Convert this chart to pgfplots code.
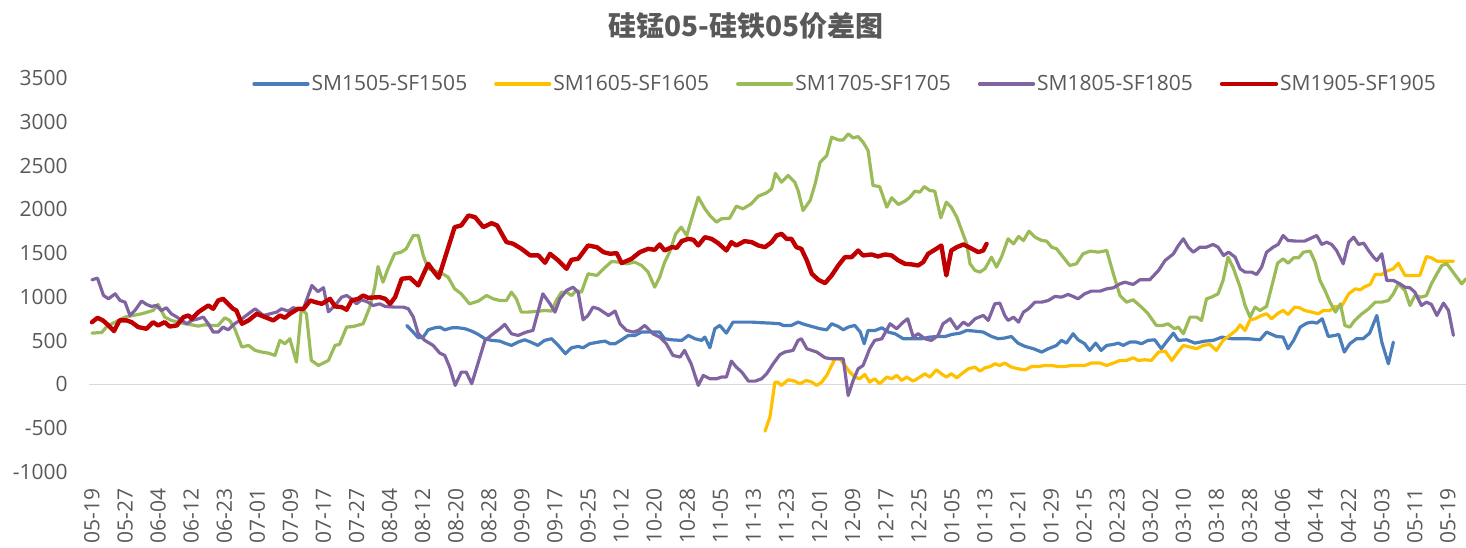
\documentclass[border=0pt]{standalone}
\usepackage{fontspec}
\setmainfont{Open Sans}
\newfontfamily\cjk{Noto Sans CJK SC}
\usepackage{pgfplots}
\pgfplotsset{compat=1.18}
\definecolor{cblue}{HTML}{4A7EBB}
\definecolor{cyellow}{HTML}{FFC000}
\definecolor{cgreen}{HTML}{9BBB59}
\definecolor{cpurple}{HTML}{8064A2}
\definecolor{cred}{HTML}{C00000}
\definecolor{txt}{HTML}{595959}
\definecolor{zeroline}{HTML}{D9D9D9}
\begin{document}
\begin{tikzpicture}
\begin{axis}[
  scale only axis, width=689pt, height=197pt,
  xmin=-0.5, xmax=249.5, ymin=-1000, ymax=3500,
  axis line style={draw=none},
  major tick length=0pt,
  ytick={-1000,-500,...,3500},
  yticklabels={-1000,-500,0,500,1000,1500,2000,2500,3000,3500},
  xtick={0,6,...,246},
  xticklabels={05-19,05-27,06-04,06-12,06-23,07-01,07-09,07-17,07-27,08-04,08-12,08-20,08-28,09-09,09-17,09-25,10-12,10-20,10-28,11-05,11-13,11-23,12-01,12-09,12-17,12-25,01-05,01-13,01-21,01-29,02-15,02-23,03-02,03-10,03-18,03-28,04-06,04-14,04-22,05-03,05-11,05-19},
  tick label style={font=\fontsize{10.5}{12}\selectfont, text=txt, inner sep=0pt},
  xticklabel style={rotate=90, anchor=east},
  xticklabel shift=8pt,
  yticklabel shift=10.6pt,
  extra y ticks={0}, extra y tick labels={},
  extra y tick style={grid=major},
  major grid style={zeroline, line width=0.75pt},
  title={硅锰05-硅铁05价差图},
  title style={at={(0.4766,1)}, anchor=center, yshift=20pt, font=\cjk\bfseries\fontsize{14}{16}\selectfont, text=txt},
  legend columns=5,
  legend style={at={(0.1181,1)}, anchor=west, yshift=-3pt, draw=none, fill=none, inner sep=0pt,
    font=\fontsize{10.5}{12}\selectfont, text=txt, nodes={inner sep=0pt},
    /tikz/every odd column/.append style={column sep=1pt},
    /tikz/every even column/.append style={column sep=13.5pt}},
  legend image code/.code={\draw[#1] (0pt,0pt) -- (27pt,0pt);},
  every axis plot/.append style={line join=round, line cap=round, no markers},
]
\addplot[cblue, line width=1.6pt] coordinates {
(57.1,674)(58.0,617)(59.2,533)(60.1,541)(61.0,624)(62.2,647)(63.1,655)(64.0,624)(65.3,647)(66.5,647)(67.7,636)(68.9,609)(70.1,571)(71.3,522)(72.5,503)(74.0,495)(74.9,472)(76.1,446)(77.3,484)(78.5,510)(79.6,484)(80.9,446)(82.1,503)(83.4,522)(84.6,446)(85.9,351)(87.0,419)(88.2,434)(89.1,419)(90.3,465)(91.9,484)(93.1,495)(94.0,465)(94.9,465)(96.1,510)(97.3,560)(98.5,560)(99.7,598)(100.9,598)(102.1,598)(103.0,598)(103.9,522)(105.2,510)(107.0,503)(108.2,560)(109.4,522)(110.6,503)(111.2,541)(112.1,419)(113.0,636)(113.9,674)(115.1,586)(116.3,712)(117.9,712)(119.7,712)(121.5,705)(123.3,700)(124.8,693)(125.4,674)(126.9,674)(128.1,712)(129.3,685)(130.6,662)(132.1,636)(133.3,624)(134.2,693)(135.4,662)(136.3,624)(137.2,655)(138.4,674)(139.4,598)(140.1,465)(140.8,617)(142.1,617)(143.3,647)(144.5,598)(145.7,579)(147.2,522)(148.7,522)(150.5,522)(152.0,541)(153.5,548)(154.8,548)(156.0,571)(157.5,586)(158.7,617)(160.2,609)(161.7,598)(163.2,548)(164.4,522)(165.6,530)(166.8,548)(168.0,472)(169.3,434)(170.8,408)(172.3,370)(173.5,408)(175.0,446)(175.9,503)(176.8,472)(178.0,579)(178.9,510)(180.1,465)(181.0,389)(182.1,472)(183.1,389)(184.1,446)(185.3,457)(186.2,472)(187.1,446)(188.3,484)(189.5,484)(190.4,465)(191.6,503)(192.8,510)(194.0,408)(194.9,484)(196.2,586)(197.1,503)(198.6,510)(200.1,472)(201.9,495)(203.4,503)(205.0,541)(206.8,522)(208.2,522)(209.8,522)(211.9,510)(213.1,598)(214.9,548)(216.1,541)(217.0,408)(218.0,503)(219.2,655)(220.4,700)(221.4,712)(222.2,700)(223.2,750)(224.3,548)(225.5,560)(226.2,571)(227.2,370)(228.2,465)(229.4,522)(230.6,522)(231.8,586)(233.1,788)(234.0,484)(235.2,236)(236.1,484)
};
\addlegendentry{SM1505-SF1505}
\addplot[cyellow, line width=1.6pt] coordinates {
(122.1,-533)(123.0,-373)(123.9,26)(124.4,27)(125.1,-11)(126.3,53)(127.5,38)(128.4,8)(129.6,46)(130.6,27)(131.5,-11)(132.4,27)(133.3,103)(134.2,217)(134.8,293)(135.7,293)(136.6,217)(137.5,141)(138.4,84)(139.3,65)(140.2,114)(141.1,27)(142.0,65)(142.9,8)(144.2,84)(145.1,65)(146.0,103)(146.9,46)(147.8,84)(149.0,38)(150.2,84)(151.1,122)(152.0,84)(153.2,167)(154.1,122)(155.0,84)(155.9,122)(156.9,76)(157.8,122)(159.0,179)(160.2,198)(161.1,152)(162.0,190)(163.0,205)(163.8,236)(164.7,217)(165.6,244)(166.8,198)(168.0,179)(169.3,167)(170.5,205)(171.7,205)(172.9,217)(174.1,217)(175.3,205)(176.5,205)(177.7,217)(178.9,217)(180.1,217)(181.3,244)(182.9,244)(184.1,217)(185.3,244)(186.5,274)(187.7,274)(188.9,305)(189.8,274)(191.0,282)(192.2,274)(193.5,370)(194.7,381)(195.9,274)(196.8,351)(198.0,446)(199.2,427)(200.4,408)(201.6,446)(202.8,457)(204.0,389)(205.2,503)(206.8,579)(207.6,620)(208.3,680)(209.2,617)(210.1,738)(211.0,750)(212.2,788)(213.1,807)(214.0,750)(215.2,814)(216.1,845)(217.0,799)(218.2,883)(219.1,876)(220.0,845)(221.3,826)(222.5,807)(223.4,845)(224.6,845)(225.5,891)(226.7,891)(228.0,1035)(229.2,1092)(230.1,1081)(231.0,1119)(231.9,1142)(232.8,1256)(234.0,1256)(234.9,1294)(236.1,1321)(237.0,1385)(238.2,1245)(239.7,1245)(240.9,1245)(242.1,1461)(243.0,1446)(244.0,1408)(245.2,1408)(246.1,1408)(247.0,1408)
};
\addlegendentry{SM1605-SF1605}
\addplot[cgreen, line width=1.6pt] coordinates {
(0,586)(1.8,594)(2.7,662)(4.8,731)(6.0,769)(9.0,807)(11.1,845)(12.0,914)(13.2,769)(14.4,731)(16.9,693)(18.1,681)(19.3,666)(20.5,681)(21.7,674)(22.9,674)(24.1,761)(25.0,731)(25.9,636)(27.2,427)(28.4,446)(29.6,389)(30.8,370)(32.0,358)(33.2,332)(34.1,503)(35.0,465)(35.9,522)(37.1,255)(38.0,864)(38.9,807)(39.8,274)(41.1,217)(42.9,274)(44.1,446)(44.9,457)(46.2,655)(47.4,662)(49.2,693)(50.4,883)(51.3,1111)(51.9,1347)(52.8,1168)(53.7,1321)(54.9,1492)(56.1,1511)(57.0,1549)(58.3,1701)(59.2,1701)(60.1,1473)(61.0,1321)(61.9,1302)(63.1,1283)(64.6,1226)(65.8,1092)(67.0,1035)(68.5,921)(70.1,952)(71.6,1016)(72.8,978)(74.0,959)(75.2,959)(76.1,1054)(77.0,978)(77.9,826)(79.1,826)(80.6,834)(82.2,845)(83.4,838)(84.3,967)(85.2,1054)(86.1,1054)(87.0,1016)(87.9,1073)(88.8,1054)(90.0,1264)(91.6,1245)(92.8,1321)(94.3,1405)(95.5,1397)(97.0,1378)(98.5,1397)(99.7,1359)(100.9,1283)(102.1,1111)(103.0,1226)(103.9,1397)(104.8,1511)(105.9,1720)(106.9,1796)(107.9,1701)(108.8,1892)(110.0,2139)(111.2,2006)(112.1,1930)(113.3,1853)(114.2,1892)(115.7,1899)(116.9,2036)(118.1,2006)(119.6,2063)(120.9,2151)(122.4,2189)(123.3,2234)(124.0,2410)(125.1,2310)(126.3,2387)(127.5,2310)(128.1,2215)(129.0,1987)(130.3,2101)(131.2,2291)(132.1,2538)(133.3,2614)(134.2,2824)(135.4,2793)(136.3,2793)(137.2,2862)(138.1,2816)(139.0,2831)(139.9,2767)(140.8,2672)(141.7,2272)(142.9,2260)(144.2,2025)(145.1,2132)(146.3,2056)(147.5,2094)(148.4,2139)(149.3,2208)(150.2,2196)(151.0,2260)(152.0,2215)(152.9,2208)(154.0,1903)(155.0,2082)(155.9,2025)(156.9,1911)(157.8,1758)(158.7,1606)(159.3,1378)(160.2,1302)(161.1,1283)(162.0,1321)(163.2,1454)(164.1,1340)(165.0,1454)(166.2,1663)(167.2,1606)(168.1,1690)(169.0,1644)(170.0,1751)(171.1,1682)(172.3,1644)(173.2,1637)(174.1,1568)(175.0,1549)(176.2,1454)(177.4,1359)(178.6,1378)(179.8,1492)(181.1,1523)(182.6,1511)(184.1,1530)(185.3,1264)(186.5,1016)(187.7,940)(188.9,967)(190.4,883)(191.6,807)(193.1,674)(194.3,674)(195.2,693)(196.4,636)(197.1,655)(198.0,579)(199.2,769)(200.4,769)(201.3,731)(202.2,978)(203.1,997)(204.3,1035)(205.2,1187)(206.1,1454)(207.0,1340)(208.3,1111)(209.2,902)(210.1,769)(211.0,883)(211.9,845)(213.1,891)(214.0,1111)(215.1,1385)(216.1,1435)(217.0,1385)(218.0,1446)(218.9,1446)(219.8,1511)(221.0,1523)(221.9,1397)(222.8,1187)(223.7,1073)(224.6,940)(225.6,826)(226.5,921)(227.3,674)(228.2,655)(229.1,731)(230.4,807)(231.6,864)(232.8,940)(234.0,940)(235.2,959)(236.1,1035)(237.0,1149)(238.2,1073)(239.1,902)(240.0,1016)(241.2,997)(242.1,1016)(243.0,1149)(244.0,1264)(244.9,1359)(245.8,1378)(246.7,1302)(247.6,1226)(248.5,1149)(249.3,1207)
};
\addlegendentry{SM1705-SF1705}
\addplot[cpurple, line width=1.6pt] coordinates {
(0,1195)(1.0,1214)(2.1,1016)(3.0,978)(4.2,1035)(5.1,959)(6.0,940)(6.9,788)(7.8,845)(9.0,952)(9.9,914)(10.8,891)(11.7,902)(12.6,845)(13.5,876)(14.4,807)(15.4,769)(16.3,731)(17.2,693)(18.1,731)(19.3,750)(20.2,769)(21.1,693)(22.0,598)(22.9,598)(23.8,655)(24.7,624)(25.9,693)(27.2,750)(28.4,807)(29.6,864)(31.1,788)(32.3,807)(33.5,826)(34.4,864)(35.6,837)(36.5,876)(37.4,864)(38.3,853)(38.9,959)(39.9,1130)(41.0,1060)(42.0,1105)(42.9,830)(44.1,902)(45.3,997)(46.2,1016)(47.1,978)(48.0,921)(48.9,967)(50.1,940)(51.0,902)(52.2,921)(53.2,891)(54.9,883)(56.5,883)(57.4,864)(58.3,769)(59.2,579)(60.4,503)(61.9,446)(63.1,358)(64.0,332)(64.9,198)(65.9,-11)(67.0,141)(67.9,141)(68.9,8)(70.1,255)(71.3,503)(72.8,579)(74.0,636)(74.9,686)(76.1,579)(77.3,560)(78.8,598)(80.0,617)(80.9,826)(81.8,1035)(83.1,921)(84.0,826)(84.9,978)(86.1,1073)(87.3,1111)(88.2,1054)(89.1,738)(90.0,788)(90.9,883)(91.9,864)(92.8,826)(93.7,788)(94.9,838)(95.8,693)(97.0,617)(98.2,598)(99.1,617)(100.3,674)(101.8,579)(103.0,541)(104.2,465)(105.4,332)(106.7,313)(107.5,389)(108.7,237)(110.0,-11)(110.9,103)(112.1,65)(113.3,65)(114.2,84)(115.1,84)(116.0,267)(116.9,198)(117.9,141)(119.1,38)(120.3,38)(121.5,65)(122.4,122)(123.6,237)(124.8,340)(125.7,370)(127.2,389)(128.1,503)(128.7,522)(129.7,408)(130.6,389)(131.5,370)(133.0,305)(134.2,293)(135.7,293)(136.3,293)(137.2,-126)(138.1,46)(139.0,179)(139.9,217)(141.1,408)(142.0,503)(143.3,522)(144.8,693)(146.0,636)(147.2,712)(148.0,750)(149.0,541)(149.9,579)(151.1,522)(152.3,503)(153.5,560)(154.4,693)(155.7,750)(156.9,636)(158.1,712)(159.0,674)(160.2,750)(161.7,788)(162.6,731)(163.8,921)(164.7,929)(165.6,788)(166.2,731)(167.2,769)(168.1,712)(169.0,826)(169.9,864)(171.1,940)(172.3,940)(173.5,959)(174.7,1005)(175.9,997)(177.1,1028)(178.0,1005)(178.9,978)(180.1,1035)(181.3,1066)(182.9,1066)(184.1,1092)(185.3,1104)(186.5,1149)(187.4,1168)(188.9,1142)(190.1,1195)(191.9,1195)(193.5,1302)(194.7,1416)(196.2,1492)(197.1,1587)(198.0,1663)(198.9,1568)(199.8,1511)(201.0,1568)(202.2,1568)(203.4,1599)(204.3,1568)(205.3,1473)(206.2,1511)(207.4,1454)(208.3,1321)(209.2,1283)(210.4,1283)(211.3,1256)(212.2,1340)(213.1,1511)(214.3,1568)(215.2,1599)(216.1,1701)(217.0,1644)(218.5,1637)(220.0,1637)(221.3,1675)(222.2,1701)(223.1,1599)(224.0,1625)(224.9,1599)(225.8,1530)(227.0,1378)(228.0,1625)(228.9,1682)(229.8,1599)(230.7,1614)(231.6,1530)(232.5,1454)(233.1,1416)(234.0,1492)(234.9,1188)(236.1,1188)(237.3,1149)(238.2,1111)(239.1,1104)(240.0,1054)(241.2,902)(242.1,940)(243.0,914)(244.0,788)(245.2,929)(246.1,845)(247.0,560)
};
\addlegendentry{SM1805-SF1805}
\addplot[cred, line width=2.2pt] coordinates {
(0,711)(1,761)(2,731)(3,674)(4,609)(5,731)(6.3,731)(7.2,711)(8.4,655)(9.9,636)(11.1,711)(12.0,674)(13.2,711)(14.1,662)(15.4,674)(16.6,769)(17.5,788)(18.1,750)(19.3,826)(21.1,902)(22.0,864)(22.9,959)(23.8,978)(24.7,921)(25.6,864)(26.2,845)(27.2,693)(28.4,731)(29.9,807)(31.4,769)(32.9,731)(34.1,788)(35.0,761)(35.9,807)(37.4,864)(38.4,864)(39.6,959)(40.5,940)(41.7,921)(43.2,978)(44.1,891)(45.3,883)(46.2,853)(47.1,959)(48.3,978)(49.2,1016)(50.1,990)(52.2,997)(53.2,978)(54.1,921)(55.0,997)(56.2,1207)(57.7,1218)(59.2,1131)(61.0,1378)(62.0,1290)(62.9,1218)(65.8,1797)(67.0,1816)(68.3,1930)(69.5,1911)(71.0,1797)(72.5,1842)(73.5,1816)(75.2,1626)(76.4,1607)(77.9,1550)(79.5,1474)(81.0,1474)(82.2,1390)(83.1,1492)(84.6,1416)(86.1,1321)(87.0,1424)(88.2,1435)(90.0,1587)(91.6,1568)(92.8,1511)(94.0,1492)(95.2,1500)(96.1,1386)(97.9,1435)(99.4,1511)(100.9,1549)(102.1,1538)(103.0,1599)(103.9,1530)(105.2,1568)(106.1,1561)(107.0,1637)(108.2,1663)(109.1,1652)(110.0,1587)(111.2,1682)(112.4,1663)(113.6,1614)(115.1,1530)(116.0,1625)(116.9,1587)(118.4,1637)(119.7,1625)(120.9,1587)(122.1,1568)(123.3,1625)(124.2,1701)(125.1,1720)(126.0,1663)(126.9,1663)(127.8,1568)(128.7,1549)(129.7,1416)(130.6,1264)(131.8,1195)(133.0,1157)(134.2,1245)(135.4,1359)(136.6,1454)(137.8,1454)(139.0,1530)(139.9,1473)(141.4,1485)(142.6,1462)(143.9,1485)(145.1,1473)(146.3,1416)(147.5,1378)(148.7,1371)(149.9,1359)(150.8,1397)(151.7,1492)(152.9,1538)(154.1,1587)(155.0,1245)(155.9,1530)(156.9,1568)(158.1,1599)(159.3,1561)(160.8,1511)(161.7,1530)(162.3,1606)
};
\addlegendentry{SM1905-SF1905}
\end{axis}
\pgfresetboundingbox
\path[use as bounding box] (-44.6pt,-37.5pt) rectangle (688.4pt,236pt);
\end{tikzpicture}
\end{document}
